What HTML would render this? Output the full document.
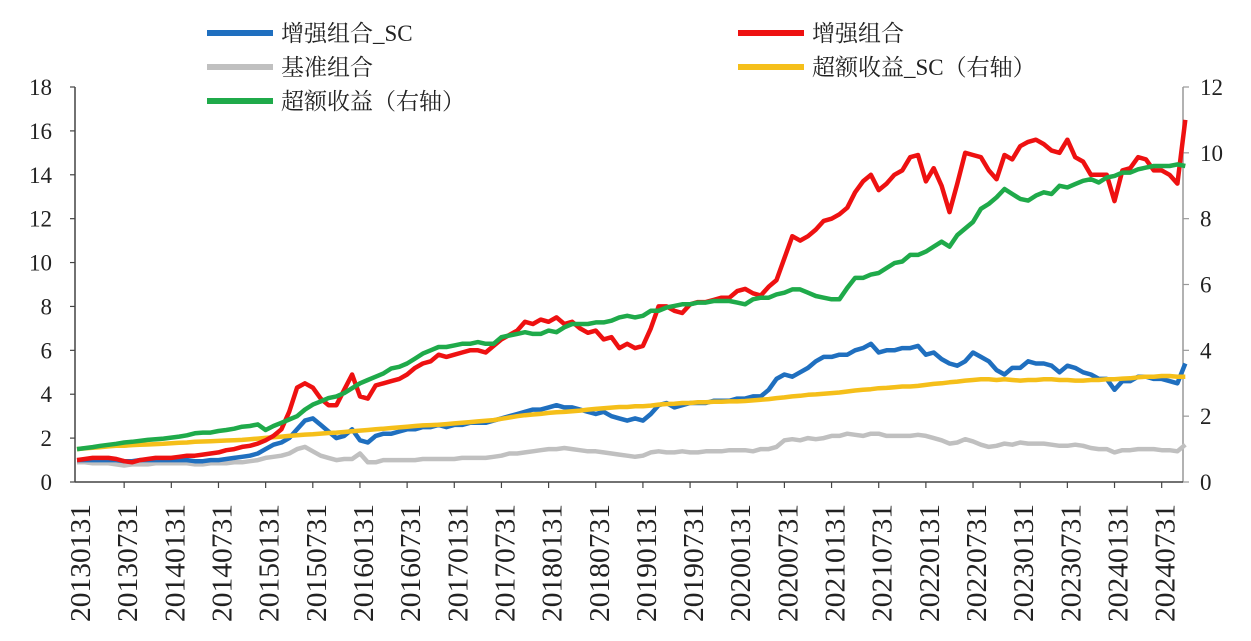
<!DOCTYPE html>
<html><head><meta charset="utf-8"><style>
body{margin:0;background:#fff;width:1251px;height:636px;overflow:hidden}
svg text{font-family:"Liberation Serif","Noto Serif CJK SC",serif;fill:#222}
</style></head><body>
<svg id="c" width="1251" height="636"></svg>
<script>
const dates=[];for(let y=2013;y<=2024;y++)for(let m=1;m<=12;m++){if(y===2024&&m>10)break;dates.push(y*100+m);}
const red=[1.0,1.05,1.1,1.1,1.1,1.05,0.95,0.9,1.0,1.05,1.1,1.1,1.1,1.15,1.2,1.2,1.25,1.3,1.35,1.45,1.5,1.6,1.65,1.75,1.9,2.1,2.4,3.2,4.3,4.5,4.3,3.8,3.5,3.5,4.2,4.9,3.9,3.8,4.4,4.5,4.6,4.7,4.9,5.2,5.4,5.5,5.8,5.7,5.8,5.9,6.0,6.0,5.9,6.2,6.5,6.7,6.9,7.3,7.2,7.4,7.3,7.5,7.2,7.3,7.0,6.8,6.9,6.5,6.6,6.1,6.3,6.1,6.2,7.0,8.0,8.0,7.8,7.7,8.1,8.2,8.2,8.3,8.4,8.4,8.7,8.8,8.6,8.5,8.9,9.2,10.2,11.2,11.0,11.2,11.5,11.9,12.0,12.2,12.5,13.2,13.7,14.0,13.3,13.6,14.0,14.2,14.8,14.9,13.7,14.3,13.5,12.3,13.6,15.0,14.9,14.8,14.2,13.8,14.9,14.7,15.3,15.5,15.6,15.4,15.1,15.0,15.6,14.8,14.6,14.0,14.0,14.0,12.8,14.2,14.3,14.8,14.7,14.2,14.2,14.0,13.6,16.5];
const blue=[1.0,1.0,1.0,1.0,1.0,1.0,0.95,0.95,1.0,1.0,1.0,1.0,1.0,1.0,1.0,0.95,0.95,1.0,1.0,1.05,1.1,1.15,1.2,1.3,1.5,1.7,1.8,2.0,2.4,2.8,2.9,2.6,2.3,2.0,2.1,2.4,1.9,1.8,2.1,2.2,2.2,2.3,2.4,2.4,2.5,2.5,2.6,2.5,2.6,2.6,2.7,2.7,2.7,2.8,2.9,3.0,3.1,3.2,3.3,3.3,3.4,3.5,3.4,3.4,3.3,3.2,3.1,3.2,3.0,2.9,2.8,2.9,2.8,3.1,3.5,3.6,3.4,3.5,3.6,3.6,3.6,3.7,3.7,3.7,3.8,3.8,3.9,3.9,4.2,4.7,4.9,4.8,5.0,5.2,5.5,5.7,5.7,5.8,5.8,6.0,6.1,6.3,5.9,6.0,6.0,6.1,6.1,6.2,5.8,5.9,5.6,5.4,5.3,5.5,5.9,5.7,5.5,5.1,4.9,5.2,5.2,5.5,5.4,5.4,5.3,5.0,5.3,5.2,5.0,4.9,4.7,4.7,4.2,4.6,4.6,4.8,4.8,4.7,4.7,4.6,4.5,5.4];
const grey=[0.9,0.9,0.85,0.85,0.85,0.8,0.75,0.8,0.8,0.8,0.85,0.85,0.85,0.85,0.85,0.8,0.8,0.85,0.85,0.85,0.9,0.9,0.95,1.0,1.1,1.15,1.2,1.3,1.5,1.6,1.4,1.2,1.1,1.0,1.05,1.05,1.3,0.9,0.9,1.0,1.0,1.0,1.0,1.0,1.05,1.05,1.05,1.05,1.05,1.1,1.1,1.1,1.1,1.15,1.2,1.3,1.3,1.35,1.4,1.45,1.5,1.5,1.55,1.5,1.45,1.4,1.4,1.35,1.3,1.25,1.2,1.15,1.2,1.35,1.4,1.35,1.35,1.4,1.35,1.35,1.4,1.4,1.4,1.45,1.45,1.45,1.4,1.5,1.5,1.6,1.9,1.95,1.9,2.0,1.95,2.0,2.1,2.1,2.2,2.15,2.1,2.2,2.2,2.1,2.1,2.1,2.1,2.15,2.1,2.0,1.9,1.75,1.8,1.95,1.85,1.7,1.6,1.65,1.75,1.7,1.8,1.75,1.75,1.75,1.7,1.65,1.65,1.7,1.65,1.55,1.5,1.5,1.35,1.45,1.45,1.5,1.5,1.5,1.45,1.45,1.4,1.7];
const yellow=[1.0,1.02,1.04,1.06,1.08,1.1,1.1,1.12,1.13,1.14,1.15,1.16,1.18,1.19,1.2,1.22,1.23,1.24,1.25,1.26,1.27,1.28,1.3,1.32,1.34,1.36,1.38,1.4,1.42,1.44,1.45,1.47,1.49,1.5,1.52,1.54,1.56,1.58,1.6,1.62,1.64,1.66,1.68,1.7,1.72,1.73,1.74,1.76,1.78,1.8,1.82,1.84,1.86,1.88,1.92,1.96,2.0,2.03,2.05,2.07,2.1,2.12,2.13,2.15,2.17,2.2,2.22,2.24,2.26,2.28,2.28,2.3,2.3,2.32,2.35,2.37,2.38,2.4,2.4,2.42,2.42,2.44,2.44,2.45,2.45,2.46,2.48,2.5,2.52,2.55,2.57,2.6,2.62,2.65,2.66,2.68,2.7,2.72,2.75,2.78,2.8,2.82,2.85,2.86,2.88,2.9,2.9,2.92,2.95,2.98,3.0,3.03,3.05,3.08,3.1,3.12,3.12,3.1,3.12,3.1,3.08,3.1,3.1,3.12,3.12,3.1,3.1,3.08,3.08,3.1,3.1,3.12,3.12,3.14,3.15,3.18,3.2,3.2,3.22,3.22,3.2,3.2];
const green=[1.0,1.03,1.06,1.1,1.13,1.16,1.2,1.22,1.25,1.28,1.3,1.32,1.35,1.38,1.42,1.48,1.5,1.5,1.55,1.58,1.62,1.68,1.7,1.75,1.58,1.7,1.8,1.9,2.0,2.2,2.35,2.45,2.55,2.6,2.7,2.85,3.0,3.1,3.2,3.3,3.45,3.5,3.6,3.75,3.9,4.0,4.1,4.1,4.15,4.2,4.2,4.25,4.2,4.2,4.4,4.45,4.5,4.55,4.5,4.5,4.6,4.55,4.7,4.8,4.8,4.8,4.85,4.85,4.9,5.0,5.05,5.0,5.05,5.2,5.2,5.3,5.35,5.4,5.4,5.45,5.45,5.5,5.5,5.5,5.45,5.4,5.55,5.6,5.6,5.7,5.75,5.85,5.85,5.75,5.65,5.6,5.55,5.55,5.9,6.2,6.2,6.3,6.35,6.5,6.65,6.7,6.9,6.9,7.0,7.15,7.3,7.15,7.5,7.7,7.9,8.3,8.45,8.65,8.9,8.75,8.6,8.55,8.7,8.8,8.75,9.0,8.95,9.05,9.15,9.2,9.1,9.25,9.3,9.4,9.4,9.5,9.55,9.6,9.6,9.6,9.65,9.6];
const leftTicks=[0,2,4,6,8,10,12,14,16,18];
const rightTicks=[0,2,4,6,8,10,12];
const NS='http://www.w3.org/2000/svg';const svg=document.getElementById('c');
const X0=77,DX=7.86,Y0=482,LMAX=18,RMAX=12,TOP=87;
const x=i=>X0+i*DX, yl=v=>Y0-v/LMAX*(Y0-TOP), yr=v=>Y0-v/RMAX*(Y0-TOP);
function mk(t,a){const e=document.createElementNS(NS,t);for(const k in a)e.setAttribute(k,a[k]);svg.appendChild(e);return e;}
let e;
e=mk('line',{x1:75,y1:TOP,x2:75,y2:Y0,stroke:'#444','stroke-width':1.5});


e=mk('line',{x1:1183,y1:TOP,x2:1183,y2:Y0,stroke:'#999','stroke-width':1.5});


e=mk('line',{x1:75,y1:Y0,x2:1183,y2:Y0,stroke:'#444','stroke-width':1.5});


leftTicks.forEach(v=>{mk('line',{x1:70,x2:75,y1:yl(v),y2:yl(v),stroke:'#444','stroke-width':1.2});
e=mk('text',{x:52,y:yl(v)+8,'text-anchor':'end','font-size':23});e.textContent=v;

});
rightTicks.forEach(v=>{mk('line',{x1:1183,x2:1189,y1:yr(v),y2:yr(v),stroke:'#999','stroke-width':1.2});
e=mk('text',{x:1200,y:yr(v)+8,'font-size':23});e.textContent=v;

});
dates.forEach((d,i)=>{if(i%6!==0)return;
if(i>0)mk('line',{x1:x(i),x2:x(i),y1:Y0,y2:Y0+6,stroke:'#444','stroke-width':1.2});
e=mk('text',{x:0,y:0,'font-size':28,textLength:118,lengthAdjust:'spacingAndGlyphs',transform:`translate(${x(i)+13},622) rotate(-90)`});
e.textContent=Math.floor(d/100)+String(d%100).padStart(2,'0')+'31';

});
function line(arr,f,col,name){const p=arr.map((v,i)=>(i?'L':'M')+x(i).toFixed(1)+','+f(v).toFixed(1)).join('');
const l=mk('path',{d:p,fill:'none',stroke:col,'stroke-width':4.5,'stroke-linejoin':'round'});

}
line(grey,yl,'#c0c0c0','series-benchmark');
line(blue,yl,'#1f6fbf','series-enhanced-sc');
line(yellow,yr,'#f5bf1a','series-excess-sc');
line(red,yl,'#ee1111','series-enhanced');
line(green,yr,'#1faa4a','series-excess');
const leg=[[207,33,'#1f6fbf','增强组合_SC'],[738,33,'#ee1111','增强组合'],[207,67,'#c0c0c0','基准组合'],[738,67,'#f5bf1a','超额收益_SC（右轴）'],[207,101,'#1faa4a','超额收益（右轴）']];
leg.forEach(a=>{mk('line',{x1:a[0],x2:a[0]+66,y1:a[1],y2:a[1],stroke:a[2],'stroke-width':6});
e=mk('text',{x:a[0]+74,y:a[1]+8,'font-size':23});e.textContent=a[3];

});
</script>
</body></html>
